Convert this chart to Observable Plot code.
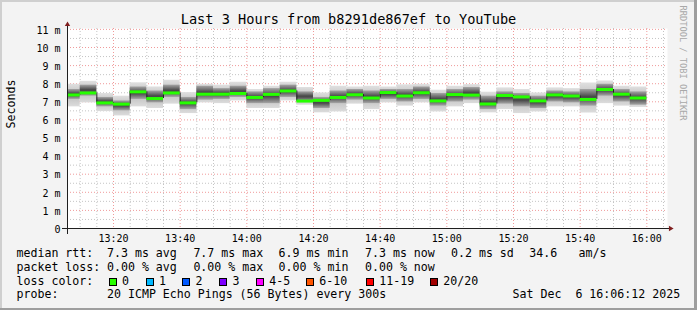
<!DOCTYPE html>
<html>
<head>
<meta charset="utf-8">
<script src="https://cdn.jsdelivr.net/npm/d3@7"></script>
<script src="https://cdn.jsdelivr.net/npm/@observablehq/plot@0.6"></script>
<style>
  html, body { margin: 0; padding: 0; background: #f3f3f3; }
  #wrap {
    position: relative; width: 697px; height: 310px; overflow: hidden;
    background: #f3f3f3;
    font-family: "DejaVu Sans Mono", monospace; color: #000;
  }
  #wrap .shade { position: absolute; }
  #chart { position: absolute; left: 0; top: 0; }
  .t { position: absolute; white-space: pre; font-size: 11.6px; line-height: 11.6px; }
  .box { position: absolute; width: 6px; height: 6px; border: 1px solid #000; }
  #title { position: absolute; left: 0; top: 12.5px; width: 697px; text-align: center;
           font-size: 13.6px; line-height: 13.6px; white-space: pre; }
</style>
</head>
<body>
<div id="wrap">
  <div class="shade" style="left:0;top:0;width:697px;height:2px;background:#cfcfcf"></div>
  <div class="shade" style="left:0;top:0;width:2px;height:310px;background:#cfcfcf"></div>
  <div class="shade" style="left:694px;top:0;width:3px;height:310px;background:#9e9e9e"></div>
  <div class="shade" style="left:0;top:308px;width:697px;height:2px;background:#9e9e9e"></div>
  <div id="chart"></div>
  <div id="title"></div>
  <div id="legend"></div>
</div>
<script>
// ---------------- data ----------------
const titleText = "Last 3 Hours from b8291de867ef to YouTube";
const yLabel = "Seconds";
const watermark = "RRDTOOL / TOBI OETIKER";

// 5-minute steps, first step ends at 13:10
const stepEnds = [
  "13:10","13:15","13:20","13:25","13:30","13:35","13:40","13:45","13:50","13:55",
  "14:00","14:05","14:10","14:15","14:20","14:25","14:30","14:35","14:40","14:45",
  "14:50","14:55","15:00","15:05","15:10","15:15","15:20","15:25","15:30","15:35",
  "15:40","15:45","15:50","15:55","16:00"
];
// median RTT (ms)
const medianMs = [
  7.38, 7.49, 6.94, 6.87, 7.55, 7.18, 7.49, 6.94, 7.42, 7.42,
  7.46, 7.24, 7.41, 7.60, 7.04, 7.08, 7.24, 7.39, 7.21, 7.51,
  7.32, 7.50, 7.05, 7.40, 7.37, 6.88, 7.35, 7.27, 7.05, 7.38,
  7.32, 7.13, 7.68, 7.42, 7.21
];
// smoke: min / max of the pings (ms)
const pingMin = [
  6.72, 6.94, 6.46, 6.22, 6.72, 6.63, 6.87, 6.35, 6.94, 6.90,
  7.05, 6.63, 6.63, 7.05, 6.81, 6.39, 6.44, 6.87, 6.57, 6.94,
  6.76, 6.94, 6.44, 6.72, 6.90, 6.39, 6.57, 6.35, 6.44, 6.72,
  6.72, 6.38, 6.90, 6.76, 6.69
];
const pingMax = [
  7.97, 8.13, 7.46, 7.31, 8.05, 7.82, 8.19, 7.51, 7.97, 7.92,
  8.08, 7.68, 7.86, 8.08, 7.79, 7.49, 7.86, 7.82, 7.86, 7.82,
  7.94, 7.97, 7.64, 7.86, 7.95, 7.53, 7.77, 7.68, 7.49, 7.77,
  7.73, 8.04, 8.15, 7.86, 7.82
];
// smoke: dense inner part (ms)
const innerLo = [
  7.13, 7.31, 6.72, 6.50, 7.13, 6.94, 7.24, 6.57, 7.09, 7.13,
  7.24, 6.90, 6.90, 7.24, 6.99, 6.63, 6.90, 7.09, 6.90, 7.13,
  6.99, 7.13, 6.76, 6.99, 7.09, 6.57, 6.87, 6.72, 6.63, 6.99,
  6.94, 6.76, 7.31, 6.99, 6.81
];
const innerHi = [
  7.68, 7.92, 7.24, 7.05, 7.82, 7.60, 7.92, 7.24, 7.86, 7.73,
  7.86, 7.55, 7.73, 7.92, 7.55, 7.24, 7.60, 7.68, 7.60, 7.68,
  7.68, 7.82, 7.46, 7.68, 7.79, 7.31, 7.55, 7.46, 7.31, 7.60,
  7.55, 7.68, 7.97, 7.68, 7.55
];

const yTicks = [0,1,2,3,4,5,6,7,8,9,10,11];
const xTickLabels = ["13:20","13:40","14:00","14:20","14:40","15:00","15:20","15:40","16:00"];

const rttStats = [["7.3","ms avg"],["7.7","ms max"],["6.9","ms min"],["7.3","ms now"],["0.2","ms sd"]];
const rttAm = ["34.6","am/s"];
const lossStats = [["0.00","% avg"],["0.00","% max"],["0.00","% min"],["0.00","% now"]];
const lossLabels = ["0","1","2","3","4-5","6-10","11-19","20/20"];
const lossColors = ["#26ff00","#00b8ff","#0059ff","#7e00ff","#ff00ff","#ff5500","#ff0000","#a10000"];
const probeText = "20 ICMP Echo Pings (56 Bytes) every 300s";
const dateText = "Sat Dec  6 16:06:12 2025";

// ---------------- build ----------------
const day = "2025-12-06T";
const T = s => new Date(day + s + ":00Z");
const tEnd = new Date(day + "16:06:12Z");
const tStart = new Date(+tEnd - 3 * 3600e3);
const stepMs = 300e3;

const bars = stepEnds.map((s, i) => ({
  t1: T(s), t0: new Date(+T(s) - stepMs),
  median: medianMs[i], min: pingMin[i], max: pingMax[i], lo: innerLo[i], hi: innerHi[i]
}));
const joins = bars.slice(1).map((b, i) => ({ t: b.t0, a: bars[i].median, b: b.median }));

const majorX = xTickLabels.map(T);
const minorX = d3.utcMinute.every(5).range(tStart, tEnd).filter(d => d.getUTCMinutes() % 20 !== 0);
const majorY = yTicks.filter(v => v > 0);
const minorY = yTicks.slice(0, -1).map(v => v + 0.5);

const plot = Plot.plot({
  width: 697, height: 310,
  marginLeft: 67, marginRight: 30, marginTop: 28, marginBottom: 82,
  x: { type: "utc", domain: [tStart, tEnd] },
  y: { domain: [0, 11.05] },
  style: { background: "transparent", fontFamily: "'DejaVu Sans Mono', monospace", fontSize: "10px", color: "#000", overflow: "visible" },
  marks: [
    Plot.frame({ fill: "#ffffff", stroke: null }),
    Plot.ruleX(minorX, { stroke: "#c4c4c4", strokeDasharray: "1,2" }),
    Plot.ruleY(minorY, { stroke: "#c4c4c4", strokeDasharray: "1,2" }),
    Plot.ruleX(majorX, { stroke: "#f09a9a", strokeDasharray: "1,2" }),
    Plot.ruleY(majorY, { stroke: "#f09a9a", strokeDasharray: "1,2" }),
    Plot.rect(bars, { x1: "t0", x2: "t1", y1: "min", y2: "max", fill: "url(#smokeOuter)", clip: "frame" }),
    Plot.rect(bars, { x1: "t0", x2: "t1", y1: "lo", y2: "hi", fill: "url(#smokeInner)", clip: "frame" }),
    Plot.ruleX(joins, { x: "t", y1: "a", y2: "b", stroke: "#202020" }),
    Plot.ruleY(bars, { y: "median", x1: "t0", x2: "t1", stroke: "#26ff00", strokeWidth: 3, clip: "frame" }),
    Plot.frame({ anchor: "bottom", stroke: "#1f1f1f", insetLeft: -5, insetRight: -3 }),
    Plot.frame({ anchor: "left", stroke: "#1f1f1f", insetTop: -3, insetBottom: -5 }),
    Plot.dot([0], { frameAnchor: "top-left", dy: -4, symbol: "triangle", r: 2, fill: "#801f1f", stroke: null }),
    Plot.dot([0], { frameAnchor: "bottom-right", dx: 3, rotate: 90, symbol: "triangle", r: 2, fill: "#801f1f", stroke: null }),
    Plot.axisX({ ticks: majorX, tickSize: 0, tickPadding: 6, tickFormat: d3.utcFormat("%H:%M"), label: null, fill: "#000" }),
    Plot.axisY({ ticks: yTicks, tickSize: 0, tickPadding: 7, dy: 1, tickFormat: d => d === 0 ? "0" : d + " m", label: null, fill: "#000" }),
    Plot.text([yLabel], { text: d => d, frameAnchor: "left", rotate: -90, dx: -56, fontSize: 11.6, fill: "#000" }),
    Plot.text([watermark], { text: d => d, frameAnchor: "top-right", rotate: 90, textAnchor: "start", dx: 19, dy: -23, fontSize: 8.7, fill: "#a8a8a8" })
  ]
});
const ns = "http://www.w3.org/2000/svg";
const defs = document.createElementNS(ns, "defs");
defs.innerHTML =
  '<linearGradient id="smokeOuter" x1="0" y1="0" x2="0" y2="1">' +
    '<stop offset="0" stop-color="#e0e0e0"/><stop offset="0.5" stop-color="#bdbdbd"/><stop offset="1" stop-color="#dcdcdc"/>' +
  '</linearGradient>' +
  '<linearGradient id="smokeInner" x1="0" y1="0" x2="0" y2="1">' +
    '<stop offset="0" stop-color="#a6a6a6"/><stop offset="0.45" stop-color="#4a4a4a"/><stop offset="0.55" stop-color="#4a4a4a"/><stop offset="1" stop-color="#a6a6a6"/>' +
  '</linearGradient>';
plot.insertBefore(defs, plot.firstChild);
document.getElementById("chart").appendChild(plot);
document.getElementById("title").textContent = titleText;

// ---------------- legend (HTML) ----------------
const legend = document.getElementById("legend");
const F = 11.6, asc = 0.846 * F;
function txt(s, x, baseline) {
  const d = document.createElement("div");
  d.className = "t"; d.textContent = s;
  d.style.left = x + "px"; d.style.top = (baseline - asc) + "px";
  legend.appendChild(d);
}
const rows = [258.2, 272, 285.7, 299.3];
const colX = [107, 193.4, 278.6, 365, 451];
txt("median rtt:", 16.5, rows[0]);
rttStats.forEach((s, i) => txt(s[0] + " " + s[1], colX[i], rows[0]));
txt(rttAm[0], 529.3, rows[0]);
txt(rttAm[1], 578.6, rows[0]);
txt("packet loss:", 16.5, rows[1]);
lossStats.forEach((s, i) => txt(s[0] + " " + s[1], colX[i], rows[1]));
txt("loss color:", 16.5, rows[2]);
const boxX = [108.7, 145.7, 182.3, 219.3, 256, 306, 366, 430];
lossLabels.forEach((l, i) => {
  const b = document.createElement("div");
  b.className = "box"; b.style.background = lossColors[i];
  b.style.left = boxX[i] + "px"; b.style.top = (rows[2] - 7.5) + "px";
  legend.appendChild(b);
  txt(l, boxX[i] + 13.3, rows[2]);
});
txt("probe:", 16.5, rows[3]);
txt(probeText, 107, rows[3]);
txt(dateText, 512.6, rows[3]);
</script>
</body>
</html>
